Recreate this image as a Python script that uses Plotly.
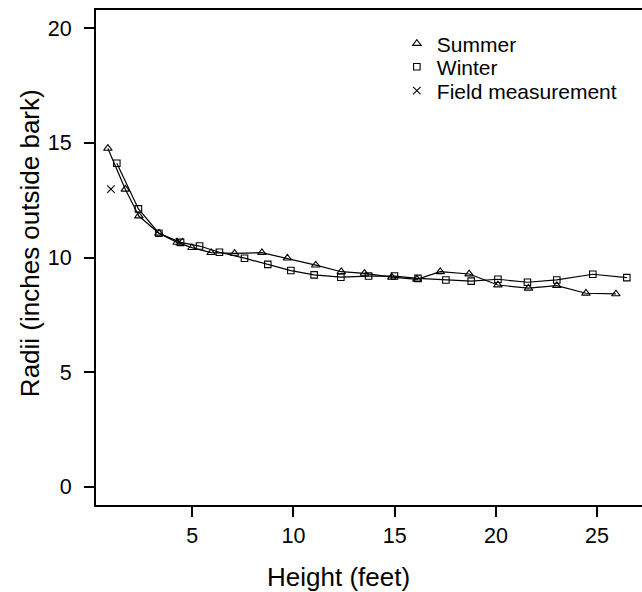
import plotly.graph_objects as go

# Data
summer_height = [0.83, 1.69, 2.36, 3.35, 4.25, 4.98, 5.93, 7.09, 8.44, 9.70, 11.10,
                 12.36, 13.51, 14.86, 16.10, 17.25, 18.68, 20.10, 21.61, 23.01, 24.45, 25.93]
summer_radius = [14.76, 12.98, 11.81, 11.06, 10.66, 10.43, 10.21, 10.18, 10.21, 9.97, 9.67,
                 9.38, 9.31, 9.14, 9.05, 9.38, 9.28, 8.80, 8.66, 8.77, 8.44, 8.41]

winter_height = [1.27, 2.34, 3.35, 4.42, 5.36, 6.34, 7.58, 8.73, 9.87, 11.02, 12.34,
                 13.71, 14.99, 16.15, 17.53, 18.78, 20.10, 21.56, 23.01, 24.79, 26.47]
winter_radius = [14.11, 12.12, 11.06, 10.66, 10.50, 10.23, 9.97, 9.70, 9.43, 9.24, 9.14,
                 9.19, 9.19, 9.09, 9.02, 8.97, 9.05, 8.92, 9.02, 9.27, 9.12]

field_height = [0.98, 4.37]
field_radius = [12.98, 10.69]

x_ticks = [5, 10, 15, 20, 25]
y_ticks = [0, 5, 10, 15, 20]

FONT = "Liberation Sans, Arial, sans-serif"
LINE = dict(color="black", width=1.2)
TRI = dict(symbol="triangle-up-open", size=7.5, color="black", line=dict(width=1.1))
SQ = dict(symbol="square-open", size=6.5, color="black", line=dict(width=1.1))
XM = dict(symbol="x-thin-open", size=7.5, color="black", line=dict(width=1.1, color="black"))

fig = go.Figure()
# connecting lines (no legend entry)
fig.add_trace(go.Scatter(x=summer_height, y=summer_radius, mode="lines",
                         line=LINE, showlegend=False, hoverinfo="skip"))
fig.add_trace(go.Scatter(x=winter_height, y=winter_radius, mode="lines",
                         line=LINE, showlegend=False, hoverinfo="skip"))
# markers (legend entries, each in its own legend box for tight row spacing)
fig.add_trace(go.Scatter(x=summer_height, y=summer_radius, mode="markers",
                         name="Summer", marker=TRI, legend="legend"))
fig.add_trace(go.Scatter(x=winter_height, y=winter_radius, mode="markers",
                         name="Winter", marker=SQ, legend="legend2"))
fig.add_trace(go.Scatter(x=field_height, y=field_radius, mode="markers",
                         name="Field measurement", marker=XM, legend="legend3"))

leg_common = dict(x=0.551, xanchor="left", yanchor="top", bgcolor="rgba(0,0,0,0)",
                  font=dict(size=21, family=FONT, color="black"))

fig.update_layout(
    width=642, height=592,
    margin=dict(l=96, r=0, t=10, b=87),
    paper_bgcolor="white", plot_bgcolor="white",
    font=dict(family=FONT, color="black", size=21),
    showlegend=True,
    legend=dict(y=0.973, **leg_common),
    legend2=dict(y=0.926, **leg_common),
    legend3=dict(y=0.878, **leg_common),
    xaxis=dict(
        range=[0.242, 27.22], tickvals=x_ticks, ticktext=[str(v) for v in x_ticks],
        showgrid=False, zeroline=False, showline=True, linecolor="black", linewidth=2,
        mirror=True, ticks="outside", ticklen=10, tickwidth=1.5, tickcolor="black",
        tickfont=dict(size=21.5, family=FONT), ticklabelstandoff=0,
    ),
    yaxis=dict(
        range=[-0.80, 20.80], tickvals=y_ticks, ticktext=[str(v) for v in y_ticks],
        showgrid=False, zeroline=False, showline=True, linecolor="black", linewidth=2,
        ticks="outside", ticklen=10, tickwidth=1.5, tickcolor="black",
        tickfont=dict(size=21.5, family=FONT), ticklabelstandoff=8,
    ),
    annotations=[
        dict(text="Height (feet)", xref="paper", yref="paper", x=0.445, y=0,
             yshift=-72, xanchor="center", yanchor="middle", showarrow=False,
             font=dict(size=26, family=FONT)),
        dict(text="Radii (inches outside bark)", xref="paper", yref="paper", x=0, y=0.529,
             xshift=-66, xanchor="center", yanchor="middle", textangle=-90, showarrow=False,
             font=dict(size=26, family=FONT)),
    ],
)

fig.write_html("out.html", config={"displayModeBar": False},
               post_script="document.body.style.margin='0';document.body.style.overflow='hidden';")
